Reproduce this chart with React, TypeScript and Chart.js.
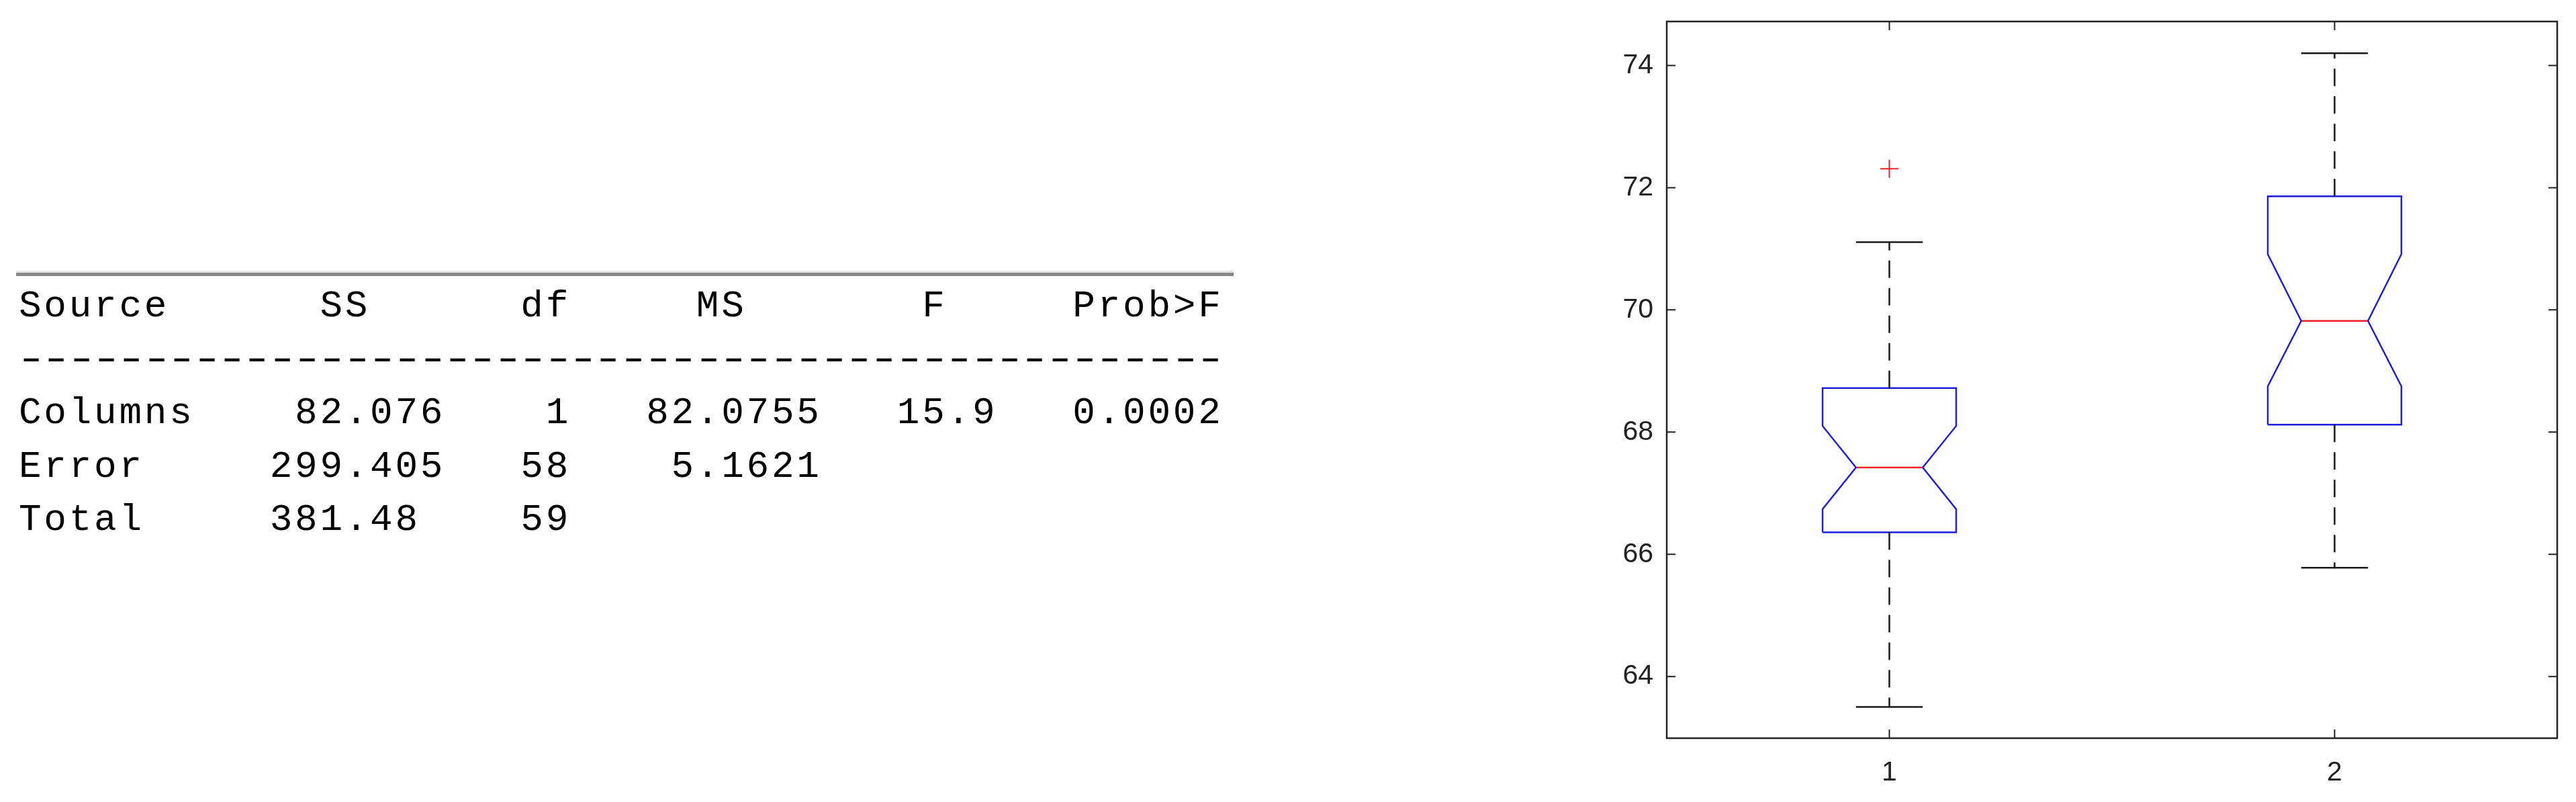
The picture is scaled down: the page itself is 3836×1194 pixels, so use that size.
import React, { useEffect, useRef } from 'react';
import { Chart, registerables } from 'chart.js';

Chart.register(...registerables);

// ---------- ANOVA table values ----------
const tableHeaders = ['Source', 'SS', 'df', 'MS', 'F', 'Prob>F'];
const tableSources = ['Columns', 'Error', 'Total'];
const tableSS = ['82.076', '299.405', '381.48'];
const tableDf = ['1', '58', '59'];
const tableMS = ['82.0755', '5.1621', ''];
const tableF = ['15.9', '', ''];
const tableProb = ['0.0002', '', ''];

// ---------- Boxplot values ----------
const groups = [1, 2];
const groupLabels = ['1', '2'];
const q1 = [66.36, 68.12];
const median = [67.42, 69.82];
const q3 = [68.72, 71.86];
const notchLow = [66.74, 68.75];
const notchHigh = [68.1, 70.91];
const whiskerLow = [63.5, 65.78];
const whiskerHigh = [71.11, 74.2];
const outlierGroup = [1];
const outlierValue = [72.31];
const yTicks = [64, 66, 68, 70, 72, 74];
const yRange = [62.99, 74.72];
const xRange = [0.5, 2.5];

// ---------- layout / style constants ----------
const HEADER_COLS = [0, 12, 20, 27, 36, 42];
const DOT_COLS = [13, 22, 27, 37, 43];
const TABLE_WIDTH_CHARS = 48;
const CELL = 37.36;
const BOX_HALF = 0.15;
const NOTCH_HALF = 0.075;
const CAP_HALF = 0.075;
const BLUE = 'rgb(30,30,225)';
const RED = 'rgb(245,30,40)';
const DARK = '#222222';

function placeAt(row: string[], str: string, start: number) {
  for (let i = 0; i < str.length; i++) row[start + i] = str[i];
}
function dotStart(str: string, dotCol: number) {
  let idx = str.indexOf('.');
  if (idx < 0) idx = str.length;
  return dotCol - idx;
}
function buildTableLines(): string[] {
  const lines: string[] = [];
  const header = new Array(TABLE_WIDTH_CHARS).fill(' ');
  tableHeaders.forEach((h, i) => placeAt(header, h, HEADER_COLS[i]));
  lines.push(header.join('').replace(/\s+$/, ''));
  lines.push('-'.repeat(TABLE_WIDTH_CHARS));
  tableSources.forEach((src, r) => {
    const row = new Array(TABLE_WIDTH_CHARS).fill(' ');
    placeAt(row, src, 0);
    const cells = [tableSS[r], tableDf[r], tableMS[r], tableF[r], tableProb[r]];
    cells.forEach((c, k) => {
      if (c) placeAt(row, c, dotStart(c, DOT_COLS[k]));
    });
    lines.push(row.join('').replace(/\s+$/, ''));
  });
  return lines;
}

function buildDatasets() {
  const ds: any[] = [];
  groups.forEach((x, i) => {
    const hw = BOX_HALF, nw = NOTCH_HALF, cw = CAP_HALF;
    ds.push({
      data: [{ x, y: q3[i] }, { x, y: whiskerHigh[i] }],
      borderColor: '#1a1a1a', borderWidth: 2.5, borderDash: [26, 15],
    });
    ds.push({
      data: [{ x, y: q1[i] }, { x, y: whiskerLow[i] }],
      borderColor: '#1a1a1a', borderWidth: 2.5, borderDash: [26, 15],
    });
    ds.push({
      data: [{ x: x - cw, y: whiskerHigh[i] }, { x: x + cw, y: whiskerHigh[i] }],
      borderColor: '#1a1a1a', borderWidth: 2.5,
    });
    ds.push({
      data: [{ x: x - cw, y: whiskerLow[i] }, { x: x + cw, y: whiskerLow[i] }],
      borderColor: '#1a1a1a', borderWidth: 2.5,
    });
    ds.push({
      data: [
        { x: x - hw, y: q1[i] },
        { x: x - hw, y: notchLow[i] },
        { x: x - nw, y: median[i] },
        { x: x - hw, y: notchHigh[i] },
        { x: x - hw, y: q3[i] },
        { x: x + hw, y: q3[i] },
        { x: x + hw, y: notchHigh[i] },
        { x: x + nw, y: median[i] },
        { x: x + hw, y: notchLow[i] },
        { x: x + hw, y: q1[i] },
        { x: x - hw, y: q1[i] },
      ],
      borderColor: BLUE, borderWidth: 2.5,
    });
    ds.push({
      data: [{ x: x - nw, y: median[i] }, { x: x + nw, y: median[i] }],
      borderColor: RED, borderWidth: 2.5,
    });
  });
  const common = { showLine: true, pointRadius: 0, pointHoverRadius: 0, tension: 0, fill: false, borderJoinStyle: 'miter' };
  const out = ds.map((d) => ({ ...common, ...d }));
  out.push({
    data: outlierGroup.map((g, k) => ({ x: g, y: outlierValue[k] })),
    showLine: false,
    pointStyle: 'cross',
    pointRadius: 13.5,
    pointHoverRadius: 13.5,
    pointBorderColor: RED,
    pointBackgroundColor: RED,
    pointBorderWidth: 2,
    borderColor: RED,
  } as any);
  return out;
}

const framePlugin = {
  id: 'matlabFrame',
  afterDatasetsDraw(chart: any) {
    const { ctx, chartArea: a, scales } = chart;
    const xs = scales.x, ys = scales.y;
    const TL = 13;
    ctx.save();
    ctx.strokeStyle = DARK;
    ctx.lineWidth = 2;
    ctx.beginPath();
    yTicks.forEach((v) => {
      const py = ys.getPixelForValue(v);
      ctx.moveTo(a.left, py); ctx.lineTo(a.left + TL, py);
      ctx.moveTo(a.right, py); ctx.lineTo(a.right - TL, py);
    });
    groups.forEach((v) => {
      const px = xs.getPixelForValue(v);
      ctx.moveTo(px, a.bottom); ctx.lineTo(px, a.bottom - TL);
      ctx.moveTo(px, a.top); ctx.lineTo(px, a.top + TL);
    });
    ctx.stroke();
    ctx.lineWidth = 2.5;
    ctx.strokeRect(a.left, a.top, a.right - a.left, a.bottom - a.top);
    ctx.restore();
  },
};

function BoxChart() {
  const ref = useRef<HTMLCanvasElement | null>(null);
  useEffect(() => {
    if (!ref.current) return;
    const tickFont = { family: '"Liberation Sans", Arial, sans-serif', size: 41 };
    const chart = new Chart(ref.current, {
      type: 'scatter',
      data: { datasets: buildDatasets() as any },
      options: {
        animation: false,
        responsive: false,
        devicePixelRatio: 1,
        layout: { padding: { top: 32, right: 28, left: 0, bottom: 0 } },
        plugins: { legend: { display: false }, tooltip: { enabled: false } },
        events: [],
        scales: {
          x: {
            type: 'linear',
            min: xRange[0],
            max: xRange[1],
            grid: { display: false, drawTicks: false },
            border: { display: false },
            ticks: {
              autoSkip: false,
              maxRotation: 0,
              padding: 27,
              color: DARK,
              font: tickFont,
              callback: (v: any) => {
                const i = groups.indexOf(Number(v));
                return i >= 0 ? groupLabels[i] : '';
              },
            },
            afterBuildTicks: (s: any) => {
              s.ticks = groups.map((v) => ({ value: v }));
            },
            afterFit: (s: any) => {
              s.height = 95;
              s.paddingLeft = 0;
              s.paddingRight = 0;
            },
          },
          y: {
            type: 'linear',
            min: yRange[0],
            max: yRange[1],
            grid: { display: false, drawTicks: false },
            border: { display: false },
            ticks: {
              autoSkip: false,
              padding: 20,
              color: DARK,
              font: tickFont,
              callback: (v: any) => String(v),
            },
            afterBuildTicks: (s: any) => {
              s.ticks = yTicks.map((v) => ({ value: v }));
            },
            afterFit: (s: any) => {
              s.width = 182;
              s.paddingTop = 0;
              s.paddingBottom = 0;
            },
          },
        },
      } as any,
      plugins: [framePlugin],
    });
    return () => chart.destroy();
  }, []);
  return (
    <canvas
      ref={ref}
      width={1536}
      height={1194}
      style={{ position: 'absolute', left: 2300, top: 0, width: 1536, height: 1194 }}
    />
  );
}

export default function App() {
  const lines = buildTableLines();
  const textStyle: React.CSSProperties = {
    fontFamily: '"Liberation Mono", "DejaVu Sans Mono", monospace',
    fontSize: 56,
    letterSpacing: 3.76,
    lineHeight: '79.5px',
    color: '#000',
    whiteSpace: 'pre',
    height: 79.5,
  };
  return (
    <div style={{ position: 'absolute', left: 0, top: 0, width: 3836, height: 1194, background: '#fff', overflow: 'hidden' }}>
      <div style={{ position: 'absolute', left: 24, top: 403, width: 1813, height: 3, background: '#e4e4e4' }} />
      <div style={{ position: 'absolute', left: 24, top: 406, width: 1813, height: 5, background: '#878787' }} />
      <div style={{ position: 'absolute', left: 28, top: 417 }}>
        {lines.map((ln, i) =>
          i === 1 ? (
            <div key={i} style={{ ...textStyle, letterSpacing: 0 }}>
              {ln.split('').map((ch, k) => (
                <span
                  key={k}
                  style={{ display: 'inline-block', width: CELL, textAlign: 'center', transform: 'scaleX(1.45)' }}
                >
                  {ch}
                </span>
              ))}
            </div>
          ) : (
            <div key={i} style={textStyle}>{ln}</div>
          )
        )}
      </div>
      <BoxChart />
    </div>
  );
}
